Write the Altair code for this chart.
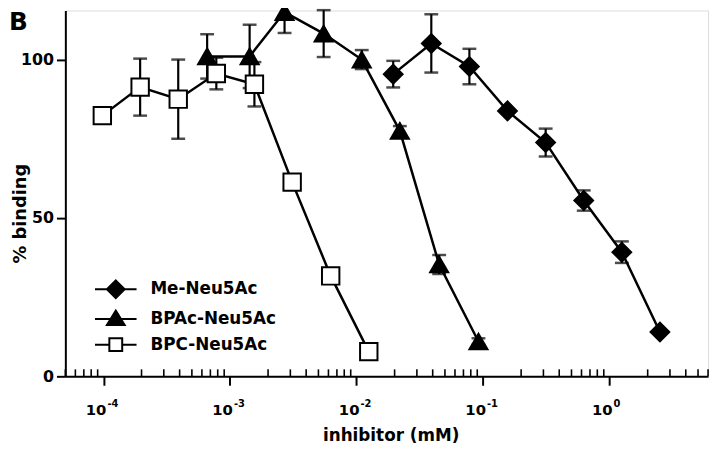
import altair as alt
import pandas as pd

# ---------------- data ----------------
series_names = ["Me-Neu5Ac", "BPAc-Neu5Ac", "BPC-Neu5Ac"]

me_x = [0.0195, 0.039, 0.078, 0.156, 0.3125, 0.625, 1.25, 2.5]
me_y = [95.4, 105.1, 97.8, 83.8, 73.8, 55.5, 39.2, 14.0]
me_err = [4.2, 9.2, 5.6, 0.0, 4.4, 3.2, 3.4, 0.0]

bpac_x = [6.6e-4, 1.43e-3, 2.7e-3, 5.5e-3, 1.1e-2, 2.2e-2, 4.5e-2, 9.2e-2]
bpac_y = [101.0, 101.0, 115.0, 108.2, 100.0, 77.5, 35.3, 11.0]
bpac_err = [7.0, 10.0, 6.6, 7.4, 3.0, 1.5, 3.0, 1.0]

bpc_x = [9.8e-5, 1.95e-4, 3.9e-4, 7.8e-4, 1.56e-3, 3.1e-3, 6.25e-3, 1.25e-2]
bpc_y = [82.3, 91.3, 87.5, 95.6, 92.2, 61.3, 31.7, 7.8]
bpc_err = [2.0, 9.0, 12.5, 5.0, 7.0, 0.0, 0.0, 0.0]

major_ticks = [1e-4, 1e-3, 1e-2, 1e-1, 1.0]
major_base = ["10", "10", "10", "10", "10"]
major_exps = ["-4", "-3", "-2", "-1", "0"]
minor_decades = [1e-5, 1e-4, 1e-3, 1e-2, 1e-1, 1.0]
minor_mults = [2, 3, 4, 5, 6, 7, 8, 9]
y_ticks = [0, 50, 100]
panel_label = "B"

# ---------------- tables ----------------
rows = []
for name, xs, ys, es in [
    (series_names[0], me_x, me_y, me_err),
    (series_names[1], bpac_x, bpac_y, bpac_err),
    (series_names[2], bpc_x, bpc_y, bpc_err),
]:
    for i, (x, y, e) in enumerate(zip(xs, ys, es)):
        rows.append(dict(series=name, order=i, conc=x, binding=y, err=e, lo=y - e, hi=y + e))
df = pd.DataFrame(rows)
err_df = df[df["err"] > 0].reset_index(drop=True)

XMIN, XMAX = 5e-5, 6.0
minor_vals = [d * m for d in minor_decades for m in minor_mults if XMIN <= d * m <= XMAX]
minor_df = pd.DataFrame({"conc": minor_vals, "b0": 0.0, "b1": 2.2})
lab_df = pd.DataFrame({"conc": major_ticks, "base": major_base, "exp": major_exps})

FONT = "DejaVu Sans"
W, H = 650, 370

xscale = alt.Scale(type="log", domain=[XMIN, XMAX], nice=False)
yscale = alt.Scale(domain=[0, 115.5], nice=False, zero=False)

x_axis = alt.Axis(values=major_ticks, labels=False, tickSize=9, tickWidth=2,
                  tickColor="black", domainColor="black", domainWidth=2, grid=False,
                  title="inhibitor (mM)", titleFont=FONT, titleFontSize=17,
                  titleFontWeight="bold", titleColor="black", titleY=60,
                  titleX=329, titleBaseline="middle")
y_axis = alt.Axis(values=y_ticks, format="d", tickSize=9, tickWidth=2,
                  tickColor="black", domainColor="black", domainWidth=2, grid=False,
                  labelFont=FONT, labelFontSize=16, labelFontWeight="bold",
                  labelColor="black", labelPadding=3,
                  title="% binding", titleFont=FONT, titleFontSize=18,
                  titleFontWeight="bold", titleColor="black", titleX=-45,
                  titleY=205, titleBaseline="middle")


def X(field):
    return alt.X(f"{field}:Q", scale=xscale, axis=x_axis)


def Y(field):
    return alt.Y(f"{field}:Q", scale=yscale, axis=y_axis)


base = alt.Chart(df)

minor = alt.Chart(minor_df).mark_rule(color="black", strokeWidth=1.6).encode(
    x=X("conc"), y=Y("b0"), y2="b1:Q")

lines = base.mark_line(color="black", strokeWidth=2.5).encode(
    x=X("conc"), y=Y("binding"), detail="series:N", order="order:Q")

err_rule = alt.Chart(err_df).mark_rule(color="black", strokeWidth=2.2).encode(
    x=X("conc"), y=Y("lo"), y2="hi:Q")
cap_lo = alt.Chart(err_df).mark_tick(color="black", orient="horizontal", size=14,
                                     thickness=2.5).encode(x=X("conc"), y=Y("lo"))
cap_hi = alt.Chart(err_df).mark_tick(color="black", orient="horizontal", size=14,
                                     thickness=2.5).encode(x=X("conc"), y=Y("hi"))

points = base.mark_point(filled=True, stroke="black", strokeWidth=2, opacity=1).encode(
    x=X("conc"), y=Y("binding"),
    shape=alt.Shape("series:N", scale=alt.Scale(domain=series_names,
                    range=["diamond", "triangle-up", "square"]), legend=None),
    fill=alt.Fill("series:N", scale=alt.Scale(domain=series_names,
                  range=["black", "black", "white"]), legend=None),
    size=alt.Size("series:N", scale=alt.Scale(domain=series_names,
                  range=[360, 310, 175]), legend=None),
)

legend_paths = [
    "M-2.1,0L2.1,0M0,-0.9L0.9,0L0,0.9L-0.9,0Z",
    "M-2.1,0L2.1,0M0,-0.85L0.9,0.62L-0.9,0.62Z",
    "M-2.1,0L-0.65,0M0.65,0L2.1,0M-0.65,-0.65L0.65,-0.65L0.65,0.65L-0.65,0.65Z",
]
leg = alt.Legend(orient="none", legendX=40, legendY=271, title=None,
                 labelFont=FONT, labelFontSize=17, labelFontWeight="bold",
                 labelColor="black", symbolSize=400, symbolStrokeWidth=2,
                 symbolStrokeColor="black", symbolOpacity=1, labelOffset=24,
                 rowPadding=4, padding=0)
legend_layer = base.transform_filter("false").mark_point(
    filled=True, strokeWidth=2, opacity=1).encode(
    x=X("conc"), y=Y("binding"),
    shape=alt.Shape("series:N", scale=alt.Scale(domain=series_names, range=legend_paths),
                    legend=leg),
    fill=alt.Fill("series:N", scale=alt.Scale(domain=series_names,
                  range=["black", "black", "white"]), legend=leg),
    stroke=alt.Stroke("series:N", scale=alt.Scale(domain=series_names,
                      range=["black", "black", "black"]), legend=leg),
)

lab_base = alt.Chart(lab_df).mark_text(font=FONT, fontSize=15, fontWeight="bold",
                                       color="black", align="right", baseline="middle",
                                       dx=3).encode(
    x=X("conc"), y=alt.value(H + 34), text="base:N")
lab_exp = alt.Chart(lab_df).mark_text(font=FONT, fontSize=10, fontWeight="bold",
                                      color="black", align="left", baseline="middle",
                                      dx=4).encode(
    x=X("conc"), y=alt.value(H + 28), text="exp:N")

b_label = alt.Chart(pd.DataFrame({"t": [panel_label]})).mark_text(
    font=FONT, fontSize=25, fontWeight="bold", color="black", align="left",
    baseline="alphabetic").encode(x=alt.value(-57), y=alt.value(20), text="t:N")

chart = alt.layer(minor, lines, err_rule, cap_lo, cap_hi, points, legend_layer,
                  lab_base, lab_exp, b_label).resolve_scale(
    shape="independent", fill="independent", size="independent",
    stroke="independent"
).properties(
    width=W, height=H,
    autosize=alt.AutoSizeParams(type="none"),
    padding={"left": 58, "top": 0, "right": 4, "bottom": 71},
).configure_view(stroke=None).configure(background="white")

chart.save("out.html", embed_options={"renderer": "svg", "actions": False})
